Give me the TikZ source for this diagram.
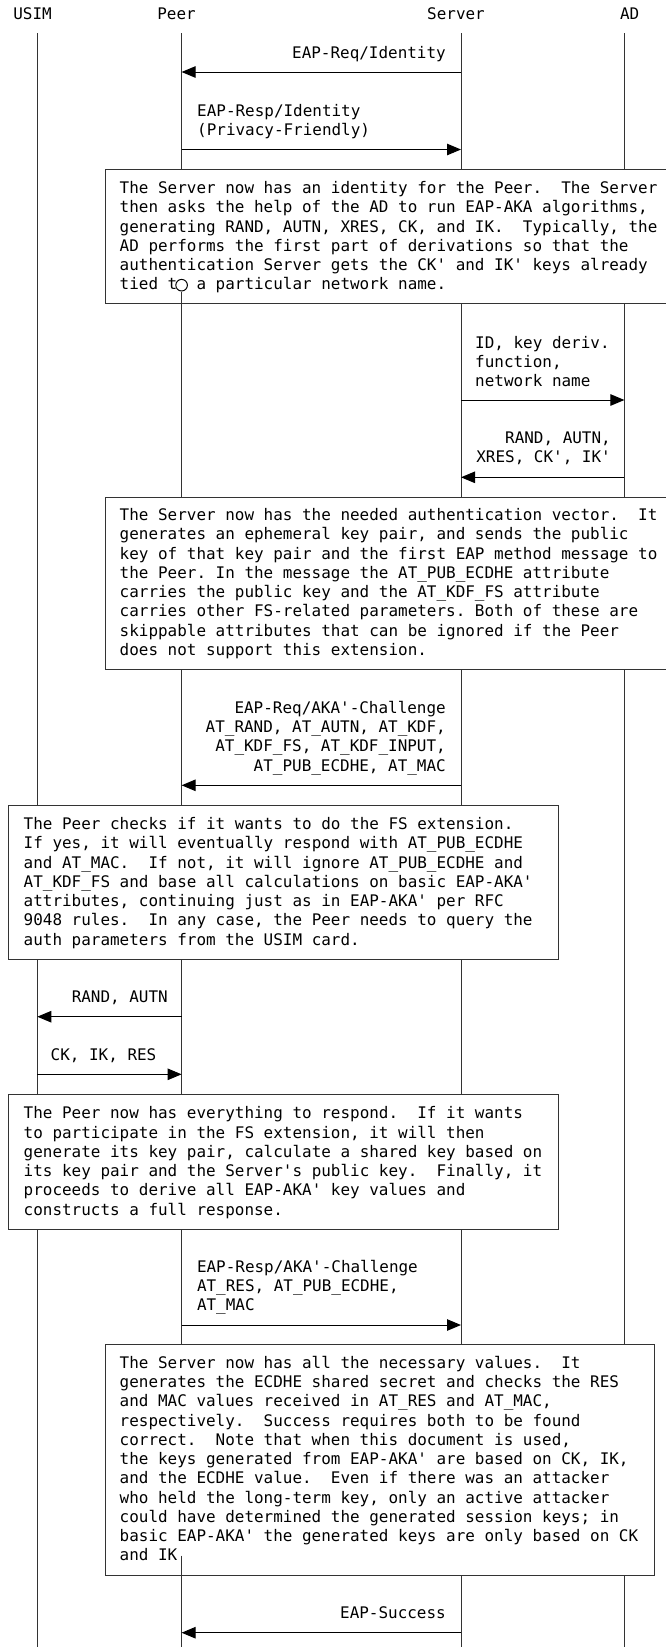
\documentclass[tikz,border=0pt]{standalone}
\usepackage{fontspec}
\setmonofont{DejaVu Sans Mono}
\usetikzlibrary{arrows.meta}
\newcommand{\diagfont}{\ttfamily\fontsize{15.95}{19.25}\selectfont\frenchspacing}
\begin{document}
\begin{tikzpicture}[x=1pt,y=-1pt]
\tikzset{
  life/.style={draw=black!80, line width=1pt},
  msg/.style={draw=black, line width=1pt, -{Triangle[length=14pt,width=11.5pt]}},
  note/.style={draw=black!80, fill=white, line width=1pt, inner sep=0pt, anchor=north west},
  txt/.style={inner sep=0pt, font=\diagfont},
  ltxt/.style={txt, align=left, anchor=north west},
  rtxt/.style={txt, align=right, anchor=north east},
  hdr/.style={txt, anchor=base},
}
\useasboundingbox (0,0) rectangle (665,1647);

% headers
\node[hdr] (usim) at (32.6,19.5) {USIM};
\node[hdr] (peer) at (176.6,19.5) {Peer};
\node[hdr] (server) at (456,19.5) {Server};
\node[hdr] (ad) at (629.6,19.5) {AD};

% lifelines
\coordinate (U0) at (37.3,33.3);  \coordinate (U1) at (37.3,1652);
\coordinate (P0) at (181.6,33.3); \coordinate (P1) at (181.6,1652);
\coordinate (S0) at (461,33.3);   \coordinate (S1) at (461,1652);
\coordinate (A0) at (624.4,33.3); \coordinate (A1) at (624.4,1652);
\draw[life] (U0) -- (U1);
\draw[life] (P0) -- (P1);
\draw[life] (S0) -- (S1);
\draw[life] (A0) -- (A1);

% messages
\coordinate (m1a) at (461,72);     \coordinate (m1b) at (181.6,72);
\coordinate (m2a) at (181.6,149.5);\coordinate (m2b) at (461,149.5);
\coordinate (m3a) at (461,400);    \coordinate (m3b) at (624.4,400);
\coordinate (m4a) at (624.4,477.3);\coordinate (m4b) at (461,477.3);
\coordinate (m5a) at (461,785.3);  \coordinate (m5b) at (181.6,785.3);
\coordinate (m6a) at (181.6,1016.7);\coordinate (m6b) at (37.3,1016.7);
\coordinate (m7a) at (37.3,1074.3);\coordinate (m7b) at (181.6,1074.3);
\coordinate (m8a) at (181.6,1325); \coordinate (m8b) at (461,1325);
\coordinate (m9a) at (461,1632.7); \coordinate (m9b) at (181.6,1632.7);
\draw[msg] (m1a) -- (m1b);
\draw[msg] (m2a) -- (m2b);
\draw[msg] (m3a) -- (m3b);
\draw[msg] (m4a) -- (m4b);
\draw[msg] (m5a) -- (m5b);
\draw[msg] (m6a) -- (m6b);
\draw[msg] (m7a) -- (m7b);
\draw[msg] (m8a) -- (m8b);
\draw[msg] (m9a) -- (m9b);

% message labels
\node[txt, anchor=base east] (l1) at (446,58.8) {EAP-Req/Identity};
\node[ltxt] (l2) at (197,103.0) {\strut EAP-Resp/Identity\\(Privacy-Friendly)};
\node[ltxt] (l3) at (475,334.7) {\strut ID, key deriv.\\function,\\network name};
\node[rtxt] (l4) at (611,429.7) {\strut RAND, AUTN,\\XRES, CK', IK'};
\node[rtxt] (l5) at (446,699.7) {\strut EAP-Req/AKA'-Challenge\\AT\_RAND, AT\_AUTN, AT\_KDF,\\AT\_KDF\_FS, AT\_KDF\_INPUT,\\AT\_PUB\_ECDHE, AT\_MAC};
\node[txt, anchor=base east] (l6) at (168,1002.8) {RAND, AUTN};
\node[txt, anchor=base west] (l7) at (50.5,1060.5) {CK, IK, RES};
\node[ltxt] (l8) at (196.8,1258.7) {\strut EAP-Resp/AKA'-Challenge\\AT\_RES, AT\_PUB\_ECDHE,\\AT\_MAC};
\node[txt, anchor=base east] (l9) at (446,1618.8) {EAP-Success};

% note boxes
\node[note, minimum width=565.2pt, minimum height=134.3pt] (b1) at (104.8,169) {};
\node[note, minimum width=565.2pt, minimum height=172.6pt] (b2) at (104.8,496.7) {};
\node[note, minimum width=549.8pt, minimum height=154.1pt] (b3) at (8.2,804.6) {};
\node[note, minimum width=549.8pt, minimum height=134.7pt] (b4) at (8.2,1094) {};
\node[note, minimum width=549.4pt, minimum height=231pt] (b5) at (104.8,1344.3) {};

\node[ltxt] (t1) at (119.5,180.0) {\strut The Server now has an identity for the Peer.~ The Server\\
then asks the help of the AD to run EAP-AKA algorithms,\\
generating RAND, AUTN, XRES, CK, and IK.~ Typically, the\\
AD performs the first part of derivations so that the\\
authentication Server gets the CK' and IK' keys already\\
tied to a particular network name.};

\node[ltxt] (t2) at (119.5,507.0) {\strut The Server now has the needed authentication vector.~ It\\
generates an ephemeral key pair, and sends the public\\
key of that key pair and the first EAP method message to\\
the Peer. In the message the AT\_PUB\_ECDHE attribute\\
carries the public key and the AT\_KDF\_FS attribute\\
carries other FS-related parameters. Both of these are\\
skippable attributes that can be ignored if the Peer\\
does not support this extension.};

\node[ltxt] (t3) at (23.5,816.0) {\strut The Peer checks if it wants to do the FS extension.\\
If yes, it will eventually respond with AT\_PUB\_ECDHE\\
and AT\_MAC.~ If not, it will ignore AT\_PUB\_ECDHE and\\
AT\_KDF\_FS and base all calculations on basic EAP-AKA'\\
attributes, continuing just as in EAP-AKA' per RFC\\
9048 rules.~ In any case, the Peer needs to query the\\
auth parameters from the USIM card.};

\node[ltxt] (t4) at (23.5,1105.3) {\strut The Peer now has everything to respond.~ If it wants\\
to participate in the FS extension, it will then\\
generate its key pair, calculate a shared key based on\\
its key pair and the Server's public key.~ Finally, it\\
proceeds to derive all EAP-AKA' key values and\\
constructs a full response.};

\node[ltxt] (t5) at (119.5,1354.7) {\strut The Server now has all the necessary values.~ It\\
generates the ECDHE shared secret and checks the RES\\
and MAC values received in AT\_RES and AT\_MAC,\\
respectively.~ Success requires both to be found\\
correct.~ Note that when this document is used,\\
the keys generated from EAP-AKA' are based on CK, IK,\\
and the ECDHE value.~ Even if there was an attacker\\
who held the long-term key, only an active attacker\\
could have determined the generated session keys; in\\
basic EAP-AKA' the generated keys are only based on CK\\
and IK};

% Peer lifeline fragments showing through the notes
\node[circle, draw=black, fill=white, line width=1pt, inner sep=0pt, minimum size=11.6pt] (pcirc) at (181.6,285.2) {};
\draw[life] (pcirc.south) -- (pcirc.south |- b1.south);
\coordinate (p5) at (181.6,1555.5);
\draw[life] (p5) -- (p5 |- b5.south);
\end{tikzpicture}
\end{document}
